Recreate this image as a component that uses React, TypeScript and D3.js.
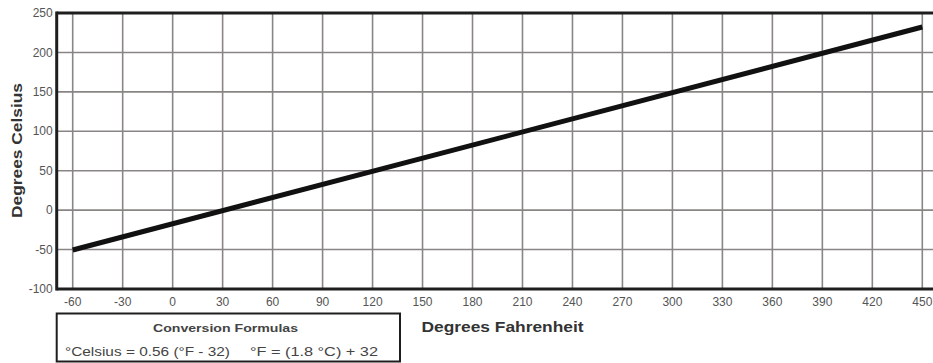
import React from "react";
import * as d3 from "d3";

const fahrenheitTicks = [-60, -30, 0, 30, 60, 90, 120, 150, 180, 210, 240, 270, 300, 330, 360, 390, 420, 450];
const celsiusTicks = [-100, -50, 0, 50, 100, 150, 200, 250];
const lineF = [-60, 450];
const lineC = [-50.5, 232.2];
const xTitle = "Degrees Fahrenheit";
const yTitle = "Degrees Celsius";
const boxTitle = "Conversion Formulas";
const formulaC = "°Celsius = 0.56 (°F - 32)";
const formulaF = "°F = (1.8 °C) + 32";

const W = 933;
const H = 363;
const FONT = "'Liberation Sans', Arial, Helvetica, sans-serif";

export default function App() {
  const x = d3.scaleLinear().domain([-60, 450]).range([72.7, 922.3]);
  const y = d3.scaleLinear().domain([-100, 250]).range([289, 13]);
  const left = x(-69.6);
  const right = W + 5;
  const top = y(250);
  const bottom = y(-100);
  const pts: [number, number][] = lineF.map((f, i) => [f, lineC[i]]);
  const line = d3.line<[number, number]>().x((d) => x(d[0])).y((d) => y(d[1]));
  const gridColor = "#8a8585";
  const frameColor = "#1e1e1e";

  return (
    <svg width={W} height={H} style={{ position: "absolute", left: 0, top: 0, background: "#fff" }} fontFamily={FONT}>
      <rect x={0} y={0} width={W} height={H} fill="#fff" />
      {fahrenheitTicks.map((f) => (
        <line key={"v" + f} x1={x(f)} x2={x(f)} y1={top} y2={bottom} stroke={gridColor} strokeWidth={1.6} />
      ))}
      {celsiusTicks.filter((c) => c > -100 && c < 250).map((c) => (
        <line key={"h" + c} x1={left} x2={right} y1={y(c)} y2={y(c)} stroke={gridColor} strokeWidth={1.6} />
      ))}
      <line x1={left} x2={right} y1={top} y2={top} stroke={frameColor} strokeWidth={3} />
      <line x1={left} x2={right} y1={bottom} y2={bottom} stroke={frameColor} strokeWidth={3} />
      <line x1={left} x2={left} y1={top - 1.5} y2={bottom + 1.5} stroke={frameColor} strokeWidth={3} />
      <path d={line(pts) || ""} fill="none" stroke="#111" strokeWidth={5} strokeLinecap="butt" />
      {celsiusTicks.map((c) => (
        <text key={"yl" + c} x={left - 4} y={y(c)} dy="0.35em" textAnchor="end" fontSize={12} fill="#555">
          {c}
        </text>
      ))}
      {fahrenheitTicks.map((f) => (
        <text key={"xl" + f} x={x(f)} y={bottom + 12.5} dy="0.35em" textAnchor="middle" fontSize={12} fill="#555">
          {f}
        </text>
      ))}
      <text x={421.5} y={332} fontSize={15} fontWeight="bold" fill="#333" textLength={162} lengthAdjust="spacingAndGlyphs">
        {xTitle}
      </text>
      <text
        transform={`translate(22, 150.5) rotate(-90)`}
        x={-67.5}
        fontSize={14}
        fontWeight="bold"
        fill="#333"
        textLength={135}
        lengthAdjust="spacingAndGlyphs"
      >
        {yTitle}
      </text>
      <rect x={left} y={313.5} width={400 - left} height={48} fill="#fff" stroke={frameColor} strokeWidth={2} />
      <text x={153} y={332} fontSize={11.5} fontWeight="bold" fill="#444" textLength={145} lengthAdjust="spacingAndGlyphs">
        {boxTitle}
      </text>
      <text x={65} y={356} fontSize={13} fill="#444" textLength={165} lengthAdjust="spacingAndGlyphs">
        {formulaC}
      </text>
      <text x={250} y={356} fontSize={13} fill="#444" textLength={128} lengthAdjust="spacingAndGlyphs">
        {formulaF}
      </text>
    </svg>
  );
}
